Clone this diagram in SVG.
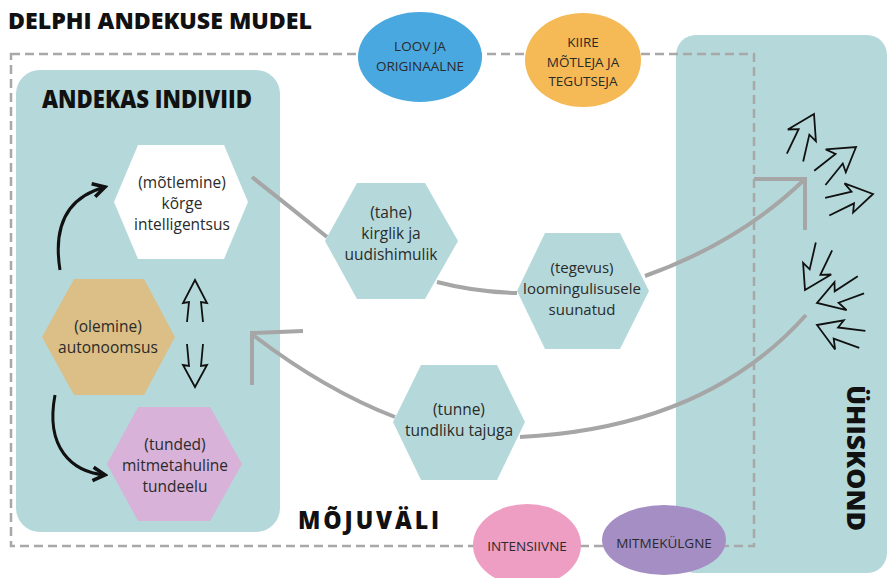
<svg xmlns="http://www.w3.org/2000/svg" width="887" height="578" viewBox="0 0 887 578">
<defs>
<style>
.box{fill:#b5d9da}
.dash{fill:none;stroke:#a8a8a8;stroke-width:2.5;stroke-dasharray:9 5}
.conn{fill:none;stroke:#a6a6a6;stroke-width:4;stroke-linecap:butt}
.blk{fill:none;stroke:#111;stroke-width:3}
.t{font-family:"Open Sans","Noto Sans","Liberation Sans",sans-serif;font-size:15.5px;fill:#2a2a2a;text-anchor:middle}
.e{font-family:"Open Sans","Noto Sans","Liberation Sans",sans-serif;font-size:13.5px;fill:#2a2a2a;text-anchor:middle}
.h{font-family:"Open Sans","Noto Sans","Liberation Sans",sans-serif;font-weight:800;fill:#111}
.bolt{fill:none;stroke:#111;stroke-width:1.8;stroke-linejoin:miter}
</style>
<marker id="chev" markerUnits="userSpaceOnUse" viewBox="0 0 12 12" refX="10" refY="6" markerWidth="18" markerHeight="18" orient="auto">
<path d="M2,1.5 L10,6 L2,10.5" fill="none" stroke="#111" stroke-width="2.4"/>
</marker>
<path id="bolt" d="M-48,-2 L-21,-5 L-27,-14 L0,0 L-22,16 L-20,7 L-46,16"/>
</defs>

<g id="ushiskond">
<rect class="box" x="676" y="35" width="211" height="538" rx="20"/>
<text class="h" font-size="25" transform="translate(847,385) rotate(90)" textLength="146" lengthAdjust="spacingAndGlyphs">ÜHISKOND</text>
</g>

<g id="andekas-individ">
<rect class="box" x="16" y="70" width="264" height="462" rx="24"/>
<text class="h" x="42" y="108" font-size="24" textLength="210" lengthAdjust="spacingAndGlyphs">ANDEKAS INDIVIID</text>
</g>

<g id="mojuvali">
<rect class="dash" x="11" y="54" width="743" height="492"/>
<text class="h" x="298" y="529" font-size="24" letter-spacing="3" textLength="144" lengthAdjust="spacingAndGlyphs">MÕJUVÄLI</text>
</g>

<text class="h" x="8" y="29" font-size="22" textLength="304" lengthAdjust="spacingAndGlyphs">DELPHI ANDEKUSE MUDEL</text>

<g id="loov">
<ellipse cx="420" cy="57" rx="62" ry="45" fill="#4aa8e0"/>
<text class="e" x="420" y="51">LOOV JA</text>
<text class="e" x="420" y="71">ORIGINAALNE</text>
</g>
<g id="kiire">
<ellipse cx="583" cy="60" rx="58" ry="47" fill="#f5b955"/>
<text class="e" x="583" y="47">KIIRE</text>
<text class="e" x="583" y="67">MÕTLEJA JA</text>
<text class="e" x="583" y="86">TEGUTSEJA</text>
</g>
<g id="intensiivne">
<ellipse cx="527" cy="545" rx="54" ry="41" fill="#ee9dc3"/>
<text class="e" x="527" y="551">INTENSIIVNE</text>
</g>
<g id="mitmekulgne">
<ellipse cx="664" cy="540" rx="62" ry="35" fill="#a48ec4"/>
<text class="e" x="664" y="548">MITMEKÜLGNE</text>
</g>

<g id="connectors">
<path class="conn" d="M252,177 Q290,207 327,237"/>
<path class="conn" d="M437,282 Q475,292 517,293"/>
<path class="conn" d="M645,276 Q740,242 805,179"/>
<path class="conn" d="M754,179 L805,179 L805,230"/>
<path class="conn" d="M806,315 Q705,428 520,437"/>
<path class="conn" d="M395,417 Q325,390 253,335"/>
<path class="conn" d="M303,331 L252,333 L252,385"/>
<path class="blk" d="M60,270 C52,220 72,196 105,187" marker-end="url(#chev)"/>
<path class="blk" d="M55,395 C45,448 72,472 105,475" marker-end="url(#chev)"/>
<path class="bolt" d="M187,322 L189,302 L183,303 L195,280 L207,303 L201,302 L203,322"/>
<path class="bolt" d="M187,344 L189,366 L183,365 L195,387 L207,365 L201,366 L203,344"/>
<use href="#bolt" class="bolt" transform="translate(814,114) rotate(-58)"/>
<use href="#bolt" class="bolt" transform="translate(856,147) rotate(-32)"/>
<use href="#bolt" class="bolt" transform="translate(873,194) rotate(-7)"/>
<use href="#bolt" class="bolt" transform="translate(805,290) rotate(122)"/>
<use href="#bolt" class="bolt" transform="translate(817,303) rotate(166)"/>
<use href="#bolt" class="bolt" transform="translate(817,325) rotate(206)"/>
</g>

<g id="motlemine">
<polygon points="138,145 224,145 248,202 224,259 138,259 114,202" fill="#ffffff"/>
<text class="t" x="182" y="188">(mõtlemine)</text>
<text class="t" x="182" y="209">kõrge</text>
<text class="t" x="182" y="230">intelligentsus</text>
</g>
<g id="olemine">
<polygon points="74,279 144,279 175,337 144,395 74,395 42,337" fill="#dbbf86"/>
<text class="t" x="108" y="332">(olemine)</text>
<text class="t" x="108" y="353">autonoomsus</text>
</g>
<g id="tunded">
<polygon points="138,407 210,407 242,464 210,521 138,521 107,464" fill="#d8b2d8"/>
<text class="t" x="175" y="450">(tunded)</text>
<text class="t" x="175" y="471">mitmetahuline</text>
<text class="t" x="175" y="492">tundeelu</text>
</g>
<g id="tahe">
<polygon points="357,183 425,183 458,241 425,299 357,299 325,241" fill="#b5d9da"/>
<text class="t" x="391" y="218">(tahe)</text>
<text class="t" x="391" y="239">kirglik ja</text>
<text class="t" x="391" y="260">uudishimulik</text>
</g>
<g id="tegevus">
<polygon points="545,233 620,233 649,291 620,349 545,349 517,291" fill="#b5d9da"/>
<text class="t" x="582" y="273" style="font-size:15px">(tegevus)</text>
<text class="t" x="582" y="294" style="font-size:15px">loomingulisusele</text>
<text class="t" x="582" y="315" style="font-size:15px">suunatud</text>
</g>
<g id="tunne">
<polygon points="421,365 497,365 525,422 497,480 421,480 393,422" fill="#b5d9da"/>
<text class="t" x="459" y="415">(tunne)</text>
<text class="t" x="459" y="436">tundliku tajuga</text>
</g>
</svg>
